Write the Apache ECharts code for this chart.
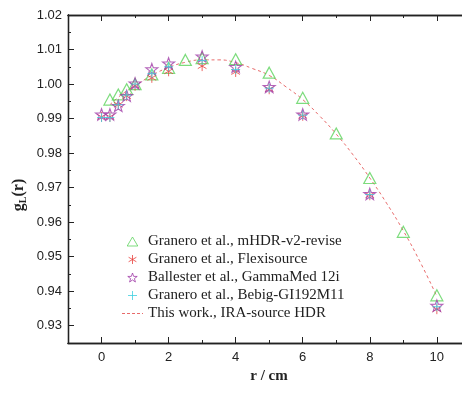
<!DOCTYPE html>
<html>
<head>
<meta charset="utf-8">
<script src="https://cdn.jsdelivr.net/npm/echarts@6/dist/echarts.min.js"></script>
<style>html,body{margin:0;padding:0;background:#fff}#c{width:462px;height:394px}</style>
</head>
<body>
<div id="c"></div>
<script>
// Data
const rTri = [0.25,0.5,0.75,1,1.5,2,2.5,3,4,5,6,7,8,9,10];
const mHDR = [0.9955,0.997,0.9985,1.0,1.0028,1.0047,1.007,1.0075,1.0072,1.0033,0.996,0.9857,0.9728,0.9572,0.9388];
const rPts = [0,0.25,0.5,0.75,1,1.5,2,3,4,5,6,8,10];
const flexi = [0.9905,0.9905,0.9940,0.9965,0.9995,1.0018,1.0037,1.0052,1.0035,0.9985,0.9908,0.9678,0.9348];
const gammaMed = [0.9912,0.9912,0.9937,0.9966,1.0002,1.0043,1.0060,1.0080,1.0050,0.9992,0.9912,0.9682,0.9358];
const bebig = [0.9903,0.9903,0.9940,0.9968,1.0000,1.0030,1.0050,1.0068,1.0042,0.9988,0.9910,0.9680,0.9355];
const rFit = [0.25,0.5,0.75,1,1.5,2,2.5,3,3.5,4,4.5,5,5.5,6,6.5,7,7.5,8,8.5,9,9.5,10];
const fit = [0.994,0.9962,0.998,0.9995,1.0025,1.0048,1.0063,1.0070,1.0070,1.0062,1.0045,1.0025,0.9992,0.9955,0.9908,0.9855,0.9795,0.9728,0.9655,0.9575,0.9485,0.9385];
const names = ['Granero et al., mHDR-v2-revise','Granero et al., Flexisource','Ballester et al., GammaMed 12i','Granero et al., Bebig-GI192M11','This work., IRA-source HDR'];
const xTicks = [0,2,4,6,8,10];
const xMinorTicks = [1,3,5,7,9];
const yTicks = [0.93,0.94,0.95,0.96,0.97,0.98,0.99,1.00,1.01,1.02];
const yMinorTicks = [0.925,0.935,0.945,0.955,0.965,0.975,0.985,0.995,1.005,1.015];

const zip = (xs, ys) => xs.map((x,i)=>[x, ys[i]]);
const TRI = 'path://M0,-9 L10,8 L-10,8 Z';
const STAR = 'path://M0,-10 L2.35,-3.24 L9.51,-3.09 L3.8,1.24 L5.88,8.09 L0,4 L-5.88,8.09 L-3.8,1.24 L-9.51,-3.09 L-2.35,-3.24 Z';
const AST = 'path://M0,-10 L0,10 M-8.66,-5 L8.66,5 M-8.66,5 L8.66,-5';
const PLUS = 'path://M0,-10 L0,10 M-10,0 L10,0';
const DASH = 'path://M0,0 h3 v1 h-3 z M5,0 h3 v1 h-3 z M10,0 h3 v1 h-3 z M15,0 h3 v1 h-3 z M20,0 h1 v1 h-1 z';
const none = 'rgba(0,0,0,0)';
const INK = '#222';
const C = {tri:'#5cd35c', ast:'#e8403c', star:'#a03ca8', plus:'#3fd0e0', fit:'#e86a6a'};

const XR = {min:-1, max:10.75};
const YR = {min:0.925, max:1.02};
function xAx(pos, values, len, labels){
  return Object.assign({type:'value', position:pos,
    axisLine:{show:true, onZero:false, lineStyle:{color:INK, width:1.3}},
    axisTick:{show:true, inside:true, length:len, customValues:values, lineStyle:{color:INK}},
    splitLine:{show:false},
    axisLabel: labels ? {show:true, customValues:values, margin:8, fontFamily:'Liberation Sans', fontSize:13, color:INK}
                      : {show:false}
  }, XR);
}
function yAx(pos, values, len, labels){
  return Object.assign({type:'value', position:pos,
    axisLine:{show:true, onZero:false, lineStyle:{color:INK, width:1.3}},
    axisTick:{show:true, inside:true, length:len, customValues:values, lineStyle:{color:INK}},
    splitLine:{show:false},
    axisLabel: labels ? {show:true, customValues:values, margin:6, fontFamily:'Liberation Sans', fontSize:13, color:INK,
                         formatter:v=>v.toFixed(2)}
                      : {show:false}
  }, YR);
}
const legItem = (name, icon, col) => ({name, icon, itemStyle:{color:none, borderColor:col, borderWidth:1}});

const chart = echarts.init(document.getElementById('c'), null, {renderer:'canvas'});
chart.setOption({
  animation:false,
  backgroundColor:'#fff',
  grid:{left:68, top:15, right:0, bottom:51},
  legend:{
    orient:'vertical', left:117, top:229, itemWidth:21, itemHeight:9, itemGap:3,
    symbolKeepAspect:true,
    textStyle:{fontFamily:'Liberation Serif', fontSize:15, color:INK},
    data:[legItem(names[0],TRI,C.tri), legItem(names[1],AST,C.ast), legItem(names[2],STAR,C.star),
          legItem(names[3],PLUS,C.plus), {name:names[4], icon:DASH, itemStyle:{color:C.fit, borderWidth:0}}]
  },
  xAxis:[xAx('bottom', xTicks, 6, true), xAx('top', xTicks, 6, false),
         xAx('bottom', xMinorTicks, 3, false), xAx('top', xMinorTicks, 3, false)],
  yAxis:[yAx('left', yTicks, 6, true), yAx('left', yMinorTicks, 3, false)],
  graphic:[
    {type:'text', x:19, y:195, rotation:Math.PI/2,
      style:{text:'{b|g}{s|L}{b|(r)}', rich:{
        b:{fontFamily:'Liberation Serif', fontWeight:'bold', fontSize:16, fill:INK},
        s:{fontFamily:'Liberation Serif', fontWeight:'bold', fontSize:10, fill:INK, padding:[8,0,0,0]}
      }, textAlign:'center', textVerticalAlign:'middle'}},
    {type:'text', x:269, y:376,
      style:{text:'r / cm', fontFamily:'Liberation Serif', fontWeight:'bold', fontSize:15, fill:INK, textAlign:'center', textVerticalAlign:'middle'}}
  ],
  series:[
    {name:names[0], type:'scatter', data:zip(rTri,mHDR), symbol:TRI, symbolSize:[12,11],
      itemStyle:{color:none, borderColor:C.tri, borderWidth:1.2}, z:3},
    {name:names[1], type:'scatter', data:zip(rPts,flexi), symbol:AST, symbolSize:10, symbolKeepAspect:true,
      itemStyle:{color:none, borderColor:C.ast, borderWidth:1}, z:4},
    {name:names[2], type:'scatter', data:zip(rPts,gammaMed), symbol:STAR, symbolSize:12, symbolKeepAspect:true,
      itemStyle:{color:none, borderColor:C.star, borderWidth:1.1}, z:5},
    {name:names[3], type:'scatter', data:zip(rPts,bebig), symbol:PLUS, symbolSize:9, symbolKeepAspect:true,
      itemStyle:{color:none, borderColor:C.plus, borderWidth:1}, z:6},
    {name:names[4], type:'line', data:zip(rFit,fit), smooth:true, showSymbol:false, symbol:'none',
      lineStyle:{color:C.fit, width:1, type:[3,3]}, itemStyle:{color:C.fit}, z:2}
  ]
});
</script>
</body>
</html>
